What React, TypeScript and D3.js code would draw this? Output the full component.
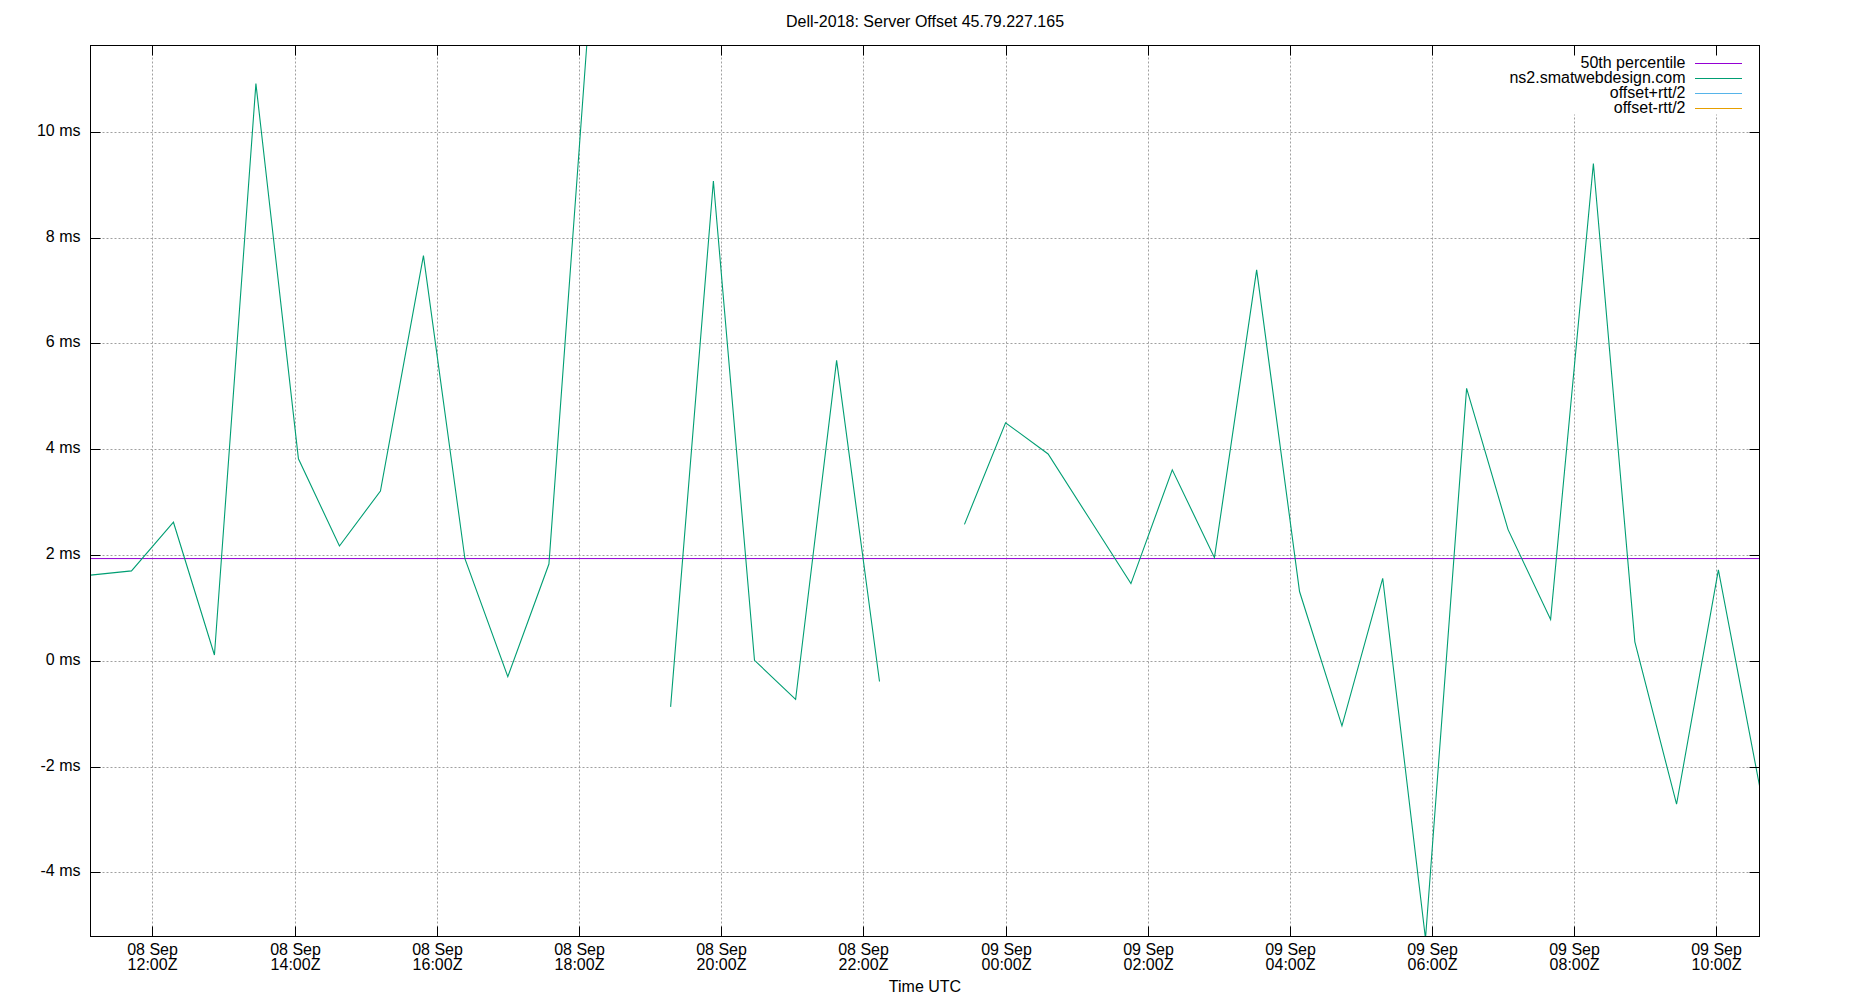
import React from "react";
import * as d3 from "d3";

const titleText = "Dell-2018: Server Offset 45.79.227.165";
const xAxisTitle = "Time UTC";

const sampleTimes: string[] = [
  "2018-09-08T11:07:42Z", "2018-09-08T11:42:18Z", "2018-09-08T12:17:42Z", "2018-09-08T12:52:18Z",
  "2018-09-08T13:27:18Z", "2018-09-08T14:03:12Z", "2018-09-08T14:37:48Z", "2018-09-08T15:12:24Z",
  "2018-09-08T15:48:42Z", "2018-09-08T16:23:42Z", "2018-09-08T16:59:54Z", "2018-09-08T17:34:36Z",
  "2018-09-08T18:10:00Z", "2018-09-08T18:45:00Z", "2018-09-08T19:17:18Z", "2018-09-08T19:53:24Z",
  "2018-09-08T20:28:06Z", "2018-09-08T21:02:48Z", "2018-09-08T21:37:24Z", "2018-09-08T22:13:36Z",
  "2018-09-08T22:49:00Z", "2018-09-08T23:25:18Z", "2018-09-09T00:00:00Z", "2018-09-09T00:35:54Z",
  "2018-09-09T01:11:00Z", "2018-09-09T01:45:48Z", "2018-09-09T02:20:42Z", "2018-09-09T02:56:18Z",
  "2018-09-09T03:31:54Z", "2018-09-09T04:08:06Z", "2018-09-09T04:43:54Z", "2018-09-09T05:18:18Z",
  "2018-09-09T05:54:24Z", "2018-09-09T06:29:06Z", "2018-09-09T07:04:06Z", "2018-09-09T07:40:00Z",
  "2018-09-09T08:16:06Z", "2018-09-09T08:51:06Z", "2018-09-09T09:26:18Z", "2018-09-09T10:01:36Z",
  "2018-09-09T10:36:18Z",
];

const offsetMs: (number | null)[] = [
  1.62, 1.70, 2.62, 0.11, 10.91, 3.82, 2.17, 3.21, 7.66, 1.93, -0.30, 1.83,
  12.7, null, -0.87, 9.07, 0.01, -0.73, 5.68, -0.39, null, 2.58, 4.50, 3.91,
  2.68, 1.46, 3.61, 1.95, 7.39, 1.31, -1.23, 1.56, -5.25, 5.15, 2.48, 0.78,
  9.40, 0.36, -2.71, 1.72, -2.36,
];

const median50 = 1.933;

const yDomain = [-5.21, 11.63];
const yTickValues = [-4, -2, 0, 2, 4, 6, 8, 10];

const xTickTimes: string[] = [
  "2018-09-08T12:00:00Z", "2018-09-08T14:00:00Z", "2018-09-08T16:00:00Z", "2018-09-08T18:00:00Z",
  "2018-09-08T20:00:00Z", "2018-09-08T22:00:00Z", "2018-09-09T00:00:00Z", "2018-09-09T02:00:00Z",
  "2018-09-09T04:00:00Z", "2018-09-09T06:00:00Z", "2018-09-09T08:00:00Z", "2018-09-09T10:00:00Z",
];

const legendLabels = ["50th percentile", "ns2.smatwebdesign.com", "offset+rtt/2", "offset-rtt/2"];
const legendColors = ["#9400d3", "#009e73", "#56b4e9", "#e69f00"];

const W = 1850;
const H = 1000;
const L = 90.5, R = 1759.5, T = 45.5, B = 936.5;
const FONT = "'Liberation Sans', Arial, Helvetica, sans-serif";

export default function App() {
  const parsed = sampleTimes.map((s) => new Date(s));
  const data = parsed.map((t, i) => ({ t, v: offsetMs[i] }));
  const x = d3.scaleUtc().domain([parsed[0], parsed[parsed.length - 1]]).range([L, R]);
  const y = d3.scaleLinear().domain(yDomain).range([B, T]);
  const ticks = xTickTimes.map((s) => new Date(s));
  const fmtDay = d3.utcFormat("%d %b");
  const fmtTime = d3.utcFormat("%H:%MZ");

  const line = d3
    .line<{ t: Date; v: number | null }>()
    .defined((d) => d.v != null)
    .x((d) => x(d.t))
    .y((d) => y(d.v as number));

  const gridColor = "#a0a0a0";
  const dash = "2,2";
  const tickLen = 10;

  return (
    <svg
      width={W}
      height={H}
      style={{ position: "absolute", left: 0, top: 0, background: "#fff" }}
      fontFamily={FONT}
      fontSize={16}
    >
      <defs>
        <clipPath id="plotClip">
          <rect x={L} y={T} width={R - L} height={B - T} />
        </clipPath>
      </defs>
      <rect x={0} y={0} width={W} height={H} fill="#fff" />

      {/* grid */}
      {yTickValues.map((v) => (
        <line key={"gy" + v} x1={L} x2={R} y1={Math.round(y(v)) + 0.5} y2={Math.round(y(v)) + 0.5}
          stroke={gridColor} strokeWidth={1} strokeDasharray={dash} />
      ))}
      {ticks.map((t, i) => (
        <line key={"gx" + i} x1={Math.round(x(t)) + 0.5} x2={Math.round(x(t)) + 0.5} y1={T} y2={B}
          stroke={gridColor} strokeWidth={1} strokeDasharray={dash} />
      ))}

      {/* legend background */}
      <rect x={1500} y={T + 0.5} width={R - 1500 - 0.5} height={114 - T} fill="#fff" />

      {/* median */}
      <line x1={L} x2={R} y1={y(median50)} y2={y(median50)} stroke={legendColors[0]} strokeWidth={1} />

      {/* data */}
      <g clipPath="url(#plotClip)">
        <path d={line(data) || ""} fill="none" stroke={legendColors[1]} strokeWidth={1.1} />
      </g>

      {/* frame */}
      <rect x={L} y={T} width={R - L} height={B - T} fill="none" stroke="#000" strokeWidth={1} />

      {/* y ticks */}
      {yTickValues.map((v) => {
        const yy = Math.round(y(v)) + 0.5;
        return (
          <g key={"ty" + v}>
            <line x1={L} x2={L + tickLen} y1={yy} y2={yy} stroke="#000" />
            <line x1={R - tickLen} x2={R} y1={yy} y2={yy} stroke="#000" />
            <text x={80.5} y={yy + 3.5} textAnchor="end" fill="#000">{`${v} ms`}</text>
          </g>
        );
      })}

      {/* x ticks */}
      {ticks.map((t, i) => {
        const xx = Math.round(x(t)) + 0.5;
        return (
          <g key={"tx" + i}>
            <line x1={xx} x2={xx} y1={B} y2={B - tickLen} stroke="#000" />
            <line x1={xx} x2={xx} y1={T} y2={T + tickLen} stroke="#000" />
            <text x={xx} y={955} textAnchor="middle" fill="#000">{fmtDay(t)}</text>
            <text x={xx} y={970} textAnchor="middle" fill="#000">{fmtTime(t)}</text>
          </g>
        );
      })}

      {/* titles */}
      <text x={(L + R) / 2} y={27} textAnchor="middle" fill="#000">{titleText}</text>
      <text x={(L + R) / 2} y={992} textAnchor="middle" fill="#000">{xAxisTitle}</text>

      {/* legend */}
      {legendLabels.map((lab, i) => {
        const ly = 63.5 + i * 15;
        return (
          <g key={"lg" + i}>
            <text x={1685.5} y={ly + 4.5} textAnchor="end" fill="#000">{lab}</text>
            <line x1={1695} x2={1742} y1={ly} y2={ly} stroke={legendColors[i]} strokeWidth={1.2} />
          </g>
        );
      })}
    </svg>
  );
}
